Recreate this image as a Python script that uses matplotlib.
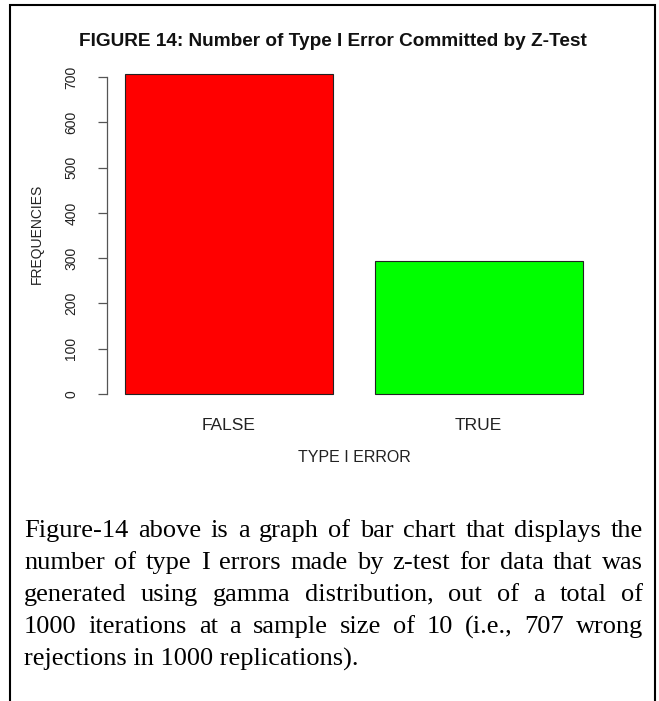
import math
import matplotlib
matplotlib.use("Agg")
import matplotlib.pyplot as plt
from matplotlib.lines import Line2D

# data
categories = ["FALSE", "TRUE"]
frequencies = [707, 293]
bar_colors = ["#FF0000", "#00FF00"]
yticks = [0, 100, 200, 300, 400, 500, 600, 700]

title = "FIGURE 14: Number of Type I Error Committed by Z-Test"
xlabel = "TYPE I ERROR"
ylabel = "FREQUENCIES"

paragraph = [
    "Figure-14 above is a graph of bar chart that displays the",
    "number of type I errors made by z-test for data that was",
    "generated using gamma distribution, out of a total of",
    "1000 iterations at a sample size of 10 (i.e., 707 wrong",
    "rejections in 1000 replications).",
]

W, H = 659, 701
fig = plt.figure(figsize=(W / 100, H / 100), dpi=100)
fig.patch.set_facecolor("white")


def fx(px):
    return px / W


def fy(py):
    return 1 - py / H


# plot region in pixels (R style barplot, 4% padding)
left, right, top, bottom = 106.7, 601, 61.2, 406.8
ax = fig.add_axes([fx(left), fy(bottom), fx(right) - fx(left), fy(top) - fy(bottom)])

xpos = [0.2 + 0.5 + i * 1.2 for i in range(len(categories))]
ax.bar(xpos, frequencies, width=1.0, color=bar_colors, edgecolor="#222222", linewidth=0.8)

ymax = max(frequencies)
ax.set_xlim(0.2 - 0.088, 2.4 + 0.088)
ax.set_ylim(-0.04 * ymax, ymax * 1.04)

for s in ["top", "right", "bottom"]:
    ax.spines[s].set_visible(False)
ax.spines["left"].set_bounds(0, 700)
ax.spines["left"].set_color("#555555")
ax.spines["left"].set_linewidth(0.9)

ax.set_yticks(yticks)
ax.set_yticklabels([str(v) for v in yticks], rotation=90, va="center",
                   fontsize=10, family="Liberation Sans", color="#222222")
ax.tick_params(axis="y", length=6.5, width=0.9, color="#555555", pad=14)

ax.set_xticks(xpos)
ax.set_xticklabels(categories, fontsize=12.5, family="Liberation Sans", color="#222222")
ax.tick_params(axis="x", length=0, pad=8)

fig.text(fx(332.5), fy(42), title, ha="center", va="center",
         fontsize=13.7, fontweight="bold", family="Liberation Sans", color="#111111")
fig.text(fx(354.5), fy(457), xlabel, ha="center", va="center",
         fontsize=11.5, family="Liberation Sans", color="#222222")
fig.text(fx(36.5), fy(234), ylabel, ha="center", va="center", rotation=90,
         fontsize=10, family="Liberation Sans", color="#222222")

# justified paragraph underneath
renderer = fig.canvas.get_renderer()
x0, x1 = 24, 643
base0, step = 537, 32
pfont = dict(fontsize=19, family="Liberation Serif", color="black", va="baseline")


def snap_baseline(t, base_px):
    # agg rounds each string's bitmap on its own descent, which made single
    # words hop a pixel; nudge so every word lands on the same pixel row
    w, h, d = renderer.get_text_width_height_descent(t.get_text(), t.get_fontproperties(), ismath=False)
    shift = math.floor(h) - math.floor(h - d) - d
    t.set_y(fy(base_px + shift))


for i, line in enumerate(paragraph):
    base = base0 + i * step
    if i == len(paragraph) - 1:
        t = fig.text(fx(x0), 0, line, ha="left", **pfont)
        snap_baseline(t, base)
        continue
    words = line.split(" ")
    texts = [fig.text(0, 0, w, ha="left", **pfont) for w in words]
    widths = [t.get_window_extent(renderer).width for t in texts]
    gap = (x1 - x0 - sum(widths)) / (len(words) - 1)
    x = x0
    for t, w in zip(texts, widths):
        t.set_x(fx(x))
        snap_baseline(t, base)
        x += w + gap

# frame around the figure block (open at the bottom)
fig.add_artist(Line2D([fx(10), fx(10), fx(655), fx(655)], [0, fy(5), fy(5), 0],
                      transform=fig.transFigure, color="black", linewidth=1.5,
                      solid_joinstyle="miter"))

fig.savefig("out.png", dpi=100, facecolor="white")
